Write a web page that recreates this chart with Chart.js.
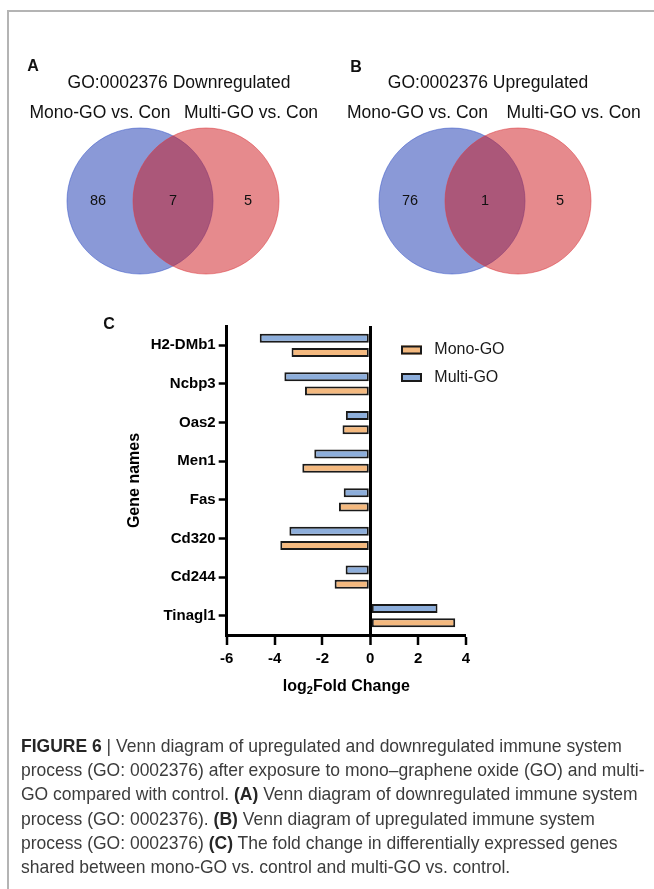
<!DOCTYPE html>
<html>
<head>
<meta charset="utf-8">
<script src="https://cdn.jsdelivr.net/npm/chart.js@4.4.1/dist/chart.umd.min.js"></script>
<style>
  html, body { margin: 0; padding: 0; background: #ffffff; }
  body { width: 654px; height: 889px; position: relative; overflow: hidden; }
  canvas.layer { position: absolute; left: 0; top: 0; width: 654px; height: 889px; }
  #frame { position: absolute; left: 7px; top: 10px; width: 660px; height: 900px;
           border-top: 2px solid #b4b4b4; border-left: 2px solid #b4b4b4; }
  #caption { position: absolute; left: 21px; top: 734px; white-space: nowrap;
             font-family: "Liberation Sans Narrow", "Liberation Sans", Arial, sans-serif;
             font-size: 18.5px; line-height: 24.2px; color: #3c3c3c; }
  #caption b { font-weight: bold; color: #262626; }
  #caption .ln { display: block; height: 24.2px; }
  #caption .ln span { display: inline-block; transform-origin: 0 0; }
</style>
</head>
<body>
<div id="frame"></div>
<canvas id="vennA" class="layer" width="654" height="889"></canvas>
<canvas id="vennB" class="layer" width="654" height="889"></canvas>
<canvas id="bars" class="layer" width="654" height="889"></canvas>
<div id="caption">
  <div class="ln"><span data-end="634"><b>FIGURE 6</b> | Venn diagram of upregulated and downregulated immune system</span></div>
  <div class="ln"><span data-end="636">process (GO: 0002376) after exposure to mono–graphene oxide (GO) and multi-</span></div>
  <div class="ln"><span data-end="634">GO compared with control. <b>(A)</b> Venn diagram of downregulated immune system</span></div>
  <div class="ln"><span>process (GO: 0002376). <b>(B)</b> Venn diagram of upregulated immune system</span></div>
  <div class="ln"><span>process (GO: 0002376) <b>(C)</b> The fold change in differentially expressed genes</span></div>
  <div class="ln"><span>shared between mono-GO vs. control and multi-GO vs. control.</span></div>
</div>
<script>
// ---------------- DATA ----------------
const setNames = ["Mono-GO vs. Con", "Multi-GO vs. Con"];
const vennDownCounts = [86, 7, 5];   // only Mono, shared, only Multi
const vennUpCounts = [76, 1, 5];
const vennDownTitle = "GO:0002376 Downregulated";
const vennUpTitle = "GO:0002376 Upregulated";

const genes = ["H2-DMb1", "Ncbp3", "Oas2", "Men1", "Fas", "Cd320", "Cd244", "Tinagl1"];
const monoGO = [-3.29, -2.73, -1.16, -2.84, -1.31, -3.76, -1.49, 3.55];
const multiGO = [-4.62, -3.59, -1.02, -2.34, -1.11, -3.38, -1.03, 2.81];
const xTicks = [-6, -4, -2, 0, 2, 4];

// ---------------- STYLE ----------------
const FONT = '"Liberation Sans", Arial, Helvetica, "DejaVu Sans", sans-serif';
const BLUE_FILL = "rgba(22,52,176,0.5)";
const RED_FILL = "rgba(206,22,28,0.5)";
const ORANGE_BAR = "#F4B97F";
const BLUE_BAR = "#8DAEDB";

// ---------------- VENN ----------------
const vennText = {
  id: "vennText",
  afterDatasetsDraw(chart, args, o) {
    const ctx = chart.ctx;
    const xs = chart.scales.x, ys = chart.scales.y;
    ctx.save();
    ctx.fillStyle = "#111";
    ctx.textBaseline = "middle";
    ctx.textAlign = "center";
    ctx.font = "bold 16px " + FONT;
    ctx.fillText(o.letter, o.letterX, o.letterY);
    ctx.font = "17.5px " + FONT;
    ctx.fillText(o.title, o.titleX, o.titleY);
    setNames.forEach((n, i) => ctx.fillText(n, o.labelXs[i], o.labelY));
    ctx.font = "14.5px " + FONT;
    o.counts.forEach((c, i) => {
      ctx.fillText(String(c), xs.getPixelForValue(i - 1), ys.getPixelForValue(0));
    });
    ctx.restore();
  }
};

function makeVenn(id, counts, title, letter, cx, cy, letterX, letterY, titleX, labelXs) {
  const halfW = 150, halfH = 112.5;
  return new Chart(document.getElementById(id), {
    type: "scatter",
    data: {
      datasets: [
        { label: setNames[0], data: [{ x: -0.44, y: 0 }], backgroundColor: BLUE_FILL, order: 1,
          borderColor: "rgba(60,90,200,0.55)", borderWidth: 1, pointRadius: 73, clip: false },
        { label: setNames[1], data: [{ x: 0.44, y: 0 }], backgroundColor: RED_FILL, order: 0,
          borderColor: "rgba(220,60,65,0.55)", borderWidth: 1, pointRadius: 73, clip: false }
      ]
    },
    options: {
      responsive: false, animation: false, events: [],
      layout: { autoPadding: false,
                padding: { left: cx - halfW, right: 654 - cx - halfW, top: cy - halfH, bottom: 889 - cy - halfH } },
      scales: {
        x: { type: "linear", min: -2, max: 2, display: false },
        y: { type: "linear", min: -1.5, max: 1.5, display: false }
      },
      plugins: {
        legend: { display: false }, tooltip: { enabled: false },
        vennText: { counts, title, letter, letterX, letterY, titleX, titleY: 83, labelXs, labelY: 113 }
      }
    },
    plugins: [vennText]
  });
}

makeVenn("vennA", vennDownCounts, vennDownTitle, "A", 173, 201, 33, 67, 179, [100, 251]);
makeVenn("vennB", vennUpCounts, vennUpTitle, "B", 485, 201, 356, 68, 488, [417.5, 573.7]);

// ---------------- BAR CHART ----------------
const barExtras = {
  id: "barExtras",
  afterDraw(chart, args, o) {
    const { ctx, chartArea } = chart;
    ctx.save();
    ctx.fillStyle = "#111";
    ctx.font = "bold 16px " + FONT;
    ctx.textAlign = "center";
    ctx.textBaseline = "middle";
    ctx.fillText("C", o.letterX, o.letterY);

    // x-axis title with a true subscript: log2Fold Change
    const parts = [
      { t: "log", f: "bold 16px " + FONT, dy: 0 },
      { t: "2", f: "bold 11px " + FONT, dy: 4 },
      { t: "Fold Change", f: "bold 16px " + FONT, dy: 0 }
    ];
    let total = 0;
    parts.forEach(p => { ctx.font = p.f; p.w = ctx.measureText(p.t).width; total += p.w; });
    let x0 = (chartArea.left + chartArea.right) / 2 - total / 2;
    ctx.textAlign = "left";
    ctx.fillStyle = "#000";
    parts.forEach(p => { ctx.font = p.f; ctx.fillText(p.t, x0, o.xTitleY + p.dy); x0 += p.w; });

    // legend (reverse dataset order: Mono-GO first)
    const ds = chart.data.datasets.slice().reverse();
    ds.forEach((d, i) => {
      const y = chartArea.top + o.top + i * o.spacing;
      const x = chartArea.right - o.fromRight;
      ctx.fillStyle = d.backgroundColor;
      ctx.fillRect(x, y - 4.5, 21, 9);
      ctx.strokeStyle = "#1a1a1a";
      ctx.lineWidth = 2;
      ctx.strokeRect(x + 1, y - 3.5, 19, 7);
      ctx.fillStyle = "#1a1a1a";
      ctx.font = "16px " + FONT;
      ctx.textAlign = "left";
      ctx.fillText(d.label, x + 33.3, y);
    });
    ctx.restore();
  }
};

new Chart(document.getElementById("bars"), {
  type: "bar",
  data: {
    labels: genes,
    datasets: [
      { label: "Multi-GO", data: multiGO, backgroundColor: BLUE_BAR, borderColor: "#1a1a1a",
        borderWidth: 2, borderSkipped: false, categoryPercentage: 0.74, barPercentage: 0.63 },
      { label: "Mono-GO", data: monoGO, backgroundColor: ORANGE_BAR, borderColor: "#1a1a1a",
        borderWidth: 2, borderSkipped: false, categoryPercentage: 0.74, barPercentage: 0.63 }
    ]
  },
  options: {
    indexAxis: "y",
    responsive: false, animation: false, events: [],
    layout: { padding: { left: 0, top: 326, right: 188, bottom: 0 } },
    scales: {
      x: {
        type: "linear", min: xTicks[0], max: xTicks[xTicks.length - 1], position: "bottom",
        afterBuildTicks: s => { s.ticks = xTicks.map(v => ({ value: v })); },
        afterFit: s => { s.height = 254; },
        grid: {
          drawOnChartArea: true,
          color: c => (c.tick && c.tick.value === 0) ? "#000" : "rgba(0,0,0,0)",
          lineWidth: c => (c.tick && c.tick.value === 0) ? 3 : 0,
          tickColor: "#000", tickWidth: 2.5, tickLength: 10
        },
        border: { display: true, color: "#000", width: 3 },
        ticks: { color: "#000", font: { family: FONT, size: 15, weight: "bold" }, padding: 5,
                 maxRotation: 0, autoSkip: false },
        title: { display: false }
      },
      y: {
        type: "category", offset: true,
        afterFit: s => { s.width = 226.7; },
        grid: { offset: false, drawOnChartArea: false, tickColor: "#000", tickWidth: 2.5, tickLength: 8 },
        border: { display: true, color: "#000", width: 3 },
        ticks: { color: "#000", font: { family: FONT, size: 15, weight: "bold" }, padding: 3, autoSkip: false },
        title: { display: true, text: "Gene names", color: "#000",
                 font: { family: FONT, size: 16, weight: "bold" }, padding: { top: 125.4, bottom: 0 } }
      }
    },
    plugins: {
      legend: { display: false }, tooltip: { enabled: false },
      barExtras: { letterX: 109, letterY: 325, top: 24, spacing: 27.5, fromRight: 65, xTitleY: 687 }
    }
  },
  plugins: [barExtras]
});

// ---------------- CAPTION FIT (one uniform horizontal scale) ----------------
function fitCaption() {
  const left = 21;
  const spans = Array.from(document.querySelectorAll("#caption .ln span"));
  spans.forEach(sp => { sp.style.transform = "none"; });
  let sumW = 0, sumT = 0;
  spans.forEach(sp => {
    const e = sp.getAttribute("data-end");
    if (e) { sumW += sp.getBoundingClientRect().width; sumT += parseFloat(e) - left; }
  });
  if (sumW > 0) {
    const s = sumT / sumW;
    spans.forEach(sp => { sp.style.transform = "scaleX(" + s + ")"; });
  }
}
fitCaption();
if (document.fonts && document.fonts.ready) document.fonts.ready.then(fitCaption);
</script>
</body>
</html>
